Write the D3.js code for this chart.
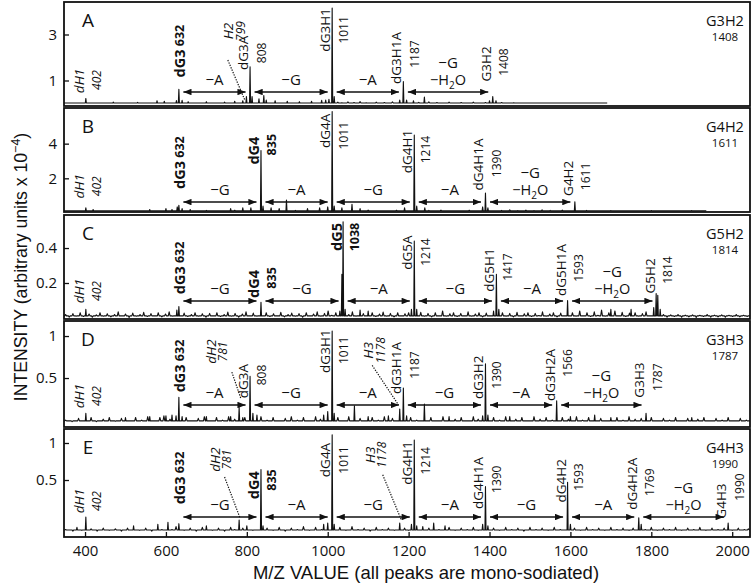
<!DOCTYPE html>
<html><head><meta charset="utf-8">
<script src="https://cdn.jsdelivr.net/npm/d3@7"></script>
<style>
body{margin:0;background:#fff}
svg text{font-family:"Open Sans",sans-serif;fill:#111}
</style>
</head><body>
<svg id="c" width="754" height="586"></svg>
<script>
// ---------------- DATA ----------------
const panelLetters = ["A","B","C","D","E"];
const compounds = ["G3H2","G4H2","G5H2","G3H3","G4H3"];
const compoundMz = ["1408","1611","1814","1787","1990"];
const xTickValues = [400,600,800,1000,1200,1400,1600,1800,2000];
const xDomain = [348, 2044];

const yTicksA = [1,3], yTicksB = [2,4], yTicksC = [0.2,0.4], yTicksD = [0.5,1], yTicksE = [0.5,1];
const yDomainA = [-0.109, 4.413], yDomainB = [0.057, 6.057], yDomainC = [-0.006, 0.589],
      yDomainD = [-0.083, 1.179], yDomainE = [-0.27, 1.189];
const baseA = 0.02, baseB = 0.12, baseC = 0.012, baseD = -0.01, baseE = -0.175;
const traceEndA = 1691, traceEndB = 1936, traceEndC = 2044, traceEndD = 2044, traceEndE = 2044;

// peaks [m/z, intensity]
const peaksA = [[402,0.22],[470,0.06],[530,0.05],[578,0.12],[596,0.1],[626,0.13],[632,0.62],[640,0.14],[655,0.08],[700,0.08],[745,0.06],[770,0.1],[790,0.12],[799,0.3],[808,1.6],[813,0.3],[830,0.2],[842,0.35],[848,0.15],[870,0.12],[900,0.1],[930,0.08],[960,0.1],[985,0.14],[995,0.15],[1003,0.18],[1011,4.15],[1016,0.3],[1178,0.15],[1187,0.95],[1195,0.15],[1212,0.12],[1239,0.28],[1400,0.12],[1408,0.3],[1416,0.12]];
const peaksB = [[402,0.3],[420,0.2],[560,0.2],[600,0.25],[615,0.2],[628,0.35],[632,0.45],[640,0.25],[660,0.2],[760,0.25],[790,0.3],[810,0.3],[835,3.6],[840,0.4],[860,0.3],[880,0.25],[898,0.75],[950,0.25],[980,0.3],[1000,0.35],[1011,5.85],[1016,0.4],[1035,0.3],[1060,0.5],[1080,0.25],[1190,0.3],[1214,4.5],[1220,0.4],[1240,0.3],[1383,0.35],[1390,1.15],[1396,0.3],[1611,0.65]];
const peaksC = [[402,0.05],[627,0.045],[632,0.065],[835,0.09],[1030,0.04],[1035,0.25],[1038,0.55],[1043,0.05],[1080,0.045],[1100,0.04],[1207,0.05],[1214,0.44],[1220,0.05],[1410,0.04],[1417,0.25],[1423,0.05],[1593,0.1],[1700,0.05],[1750,0.05],[1806,0.06],[1812,0.14],[1816,0.13],[1822,0.05]];
const peaksD = [[402,0.08],[500,0.03],[560,0.04],[600,0.05],[615,0.06],[625,0.05],[632,0.27],[640,0.04],[700,0.04],[760,0.04],[781,0.15],[790,0.03],[808,0.52],[815,0.08],[825,0.06],[990,0.06],[1000,0.1],[1011,1.06],[1016,0.08],[1066,0.17],[1100,0.04],[1150,0.05],[1178,0.13],[1187,0.38],[1195,0.05],[1239,0.19],[1300,0.04],[1383,0.05],[1390,0.67],[1396,0.06],[1450,0.04],[1566,0.23],[1600,0.04],[1660,0.06],[1700,0.03],[1787,0.08],[1900,0.03]];
const peaksE = [[380,-0.14],[402,0.0],[520,-0.12],[580,-0.1],[605,-0.07],[632,-0.09],[700,-0.12],[781,-0.04],[800,-0.12],[835,0.64],[840,-0.12],[990,-0.1],[1000,-0.08],[1011,1.11],[1016,-0.1],[1178,-0.08],[1207,-0.1],[1214,1.04],[1220,-0.12],[1235,-0.13],[1262,-0.08],[1290,-0.12],[1383,-0.1],[1390,0.41],[1396,-0.12],[1593,0.47],[1600,-0.1],[1769,-0.01],[1775,-0.1],[1990,-0.08]];

// baseline noise spikes [m/z, intensity]
const noiseA = [[1025,.06],[1035,.03],[1050,.07],[1065,.04],[1080,.08],[1095,.03],[1120,.06],[1140,.04],[1160,.07],[1225,.05],[1250,.07],[1270,.04],[1300,.06],[1330,.04],[1360,.06],[1390,.04],[1430,.04],[1460,.03]];
const noiseB = [[700,.15],[730,.13],[770,.16],[920,.15],[1100,.17],[1130,.13],[1170,.16],[1250,.15],[1280,.17],[1310,.13],[1350,.16],[1430,.15],[1450,.18],[1470,.14],[1490,.17],[1510,.14],[1530,.18],[1550,.15],[1580,.17],[1640,.15],[1700,.14],[1800,.14],[1900,.14]];
const noiseC = [[352,.02],[361,.005],[370,.025],[378,.01],[388,.03],[396,.008],[410,.022],[418,.004],[428,.018],[437,.03],[446,.01],[455,.024],[464,.006],[473,.02],[482,.035],[490,.012],[500,.022],[509,.003],[518,.028],[527,.01],[536,.02],[545,.032],[554,.008],[563,.025],[572,.012],[581,.03],[590,.006],[599,.022],[608,.035],[617,.01],[645,.028],[654,.008],[663,.02],[672,.03],[681,.01],[690,.024],[699,.004],[708,.026],[717,.012],[726,.03],[735,.008],[744,.02],[753,.034],[762,.01],[771,.026],[780,.005],[789,.022],[798,.035],[807,.012],[816,.028],[825,.01],[848,.03],[857,.008],[866,.024],[875,.012],[884,.032],[893,.006],[902,.02],[911,.028],[920,.01],[929,.025],[938,.004],[947,.03],[956,.012],[965,.022],[974,.035],[983,.01],[992,.026],[1001,.04],[1010,.015],[1020,.03],[1052,.02],[1061,.035],[1070,.01],[1088,.025],[1110,.03],[1119,.008],[1128,.022],[1137,.034],[1146,.01],[1155,.026],[1164,.006],[1173,.03],[1182,.012],[1191,.024],[1200,.03],[1230,.032],[1239,.01],[1248,.026],[1257,.006],[1266,.03],[1275,.012],[1284,.04],[1293,.01],[1302,.024],[1311,.03],[1320,.008],[1329,.026],[1338,.012],[1347,.035],[1356,.01],[1365,.022],[1374,.03],[1383,.006],[1392,.028],[1401,.012],[1432,.03],[1441,.01],[1450,.026],[1459,.006],[1468,.032],[1477,.012],[1486,.024],[1495,.03],[1504,.008],[1513,.026],[1522,.014],[1531,.035],[1540,.01],[1549,.022],[1558,.03],[1567,.006],[1576,.028],[1585,.012],[1605,.03],[1614,.01],[1623,.04],[1632,.012],[1641,.03],[1650,.008],[1659,.035],[1668,.015],[1677,.045],[1686,.01],[1695,.03],[1710,.04],[1719,.012],[1728,.032],[1737,.008],[1746,.028],[1760,.03],[1769,.01],[1778,.025],[1787,.035],[1796,.012],[1830,.02],[1839,.005],[1848,.018],[1857,.008],[1866,.02],[1875,.004],[1884,.016],[1893,.006],[1902,.018],[1911,.003],[1920,.015],[1929,.008],[1938,.02],[1947,.005],[1956,.016],[1965,.006],[1974,.018],[1983,.004],[1992,.015],[2001,.008],[2010,.02],[2019,.006],[2028,.015],[2037,.008]];
const noiseD = [[352,0],[368,-.02],[384,.02],[396,-.01],[415,.03],[428,-.02],[445,.01],[460,.03],[475,-.015],[490,.02],[510,-.01],[525,.03],[540,0],[555,.04],[570,-.01],[585,.03],[595,.05],[610,.01],[650,.03],[665,-.01],[680,.02],[695,.04],[710,-.01],[725,.03],[740,0],[755,.04],[770,.01],[795,.03],[835,.04],[850,0],[865,.03],[880,-.01],[895,.02],[910,.04],[925,0],[940,.03],[955,-.01],[970,.04],[982,.01],[1025,.03],[1040,-.01],[1052,.04],[1080,.02],[1092,-.01],[1110,.03],[1125,0],[1140,.04],[1160,.02],[1170,-.01],[1205,.03],[1220,0],[1255,.03],[1270,-.01],[1285,.04],[1315,.01],[1330,.03],[1345,-.01],[1360,.04],[1372,.01],[1410,.03],[1425,0],[1440,.04],[1465,.01],[1480,.03],[1495,-.01],[1510,.04],[1525,.01],[1540,.03],[1555,0],[1580,.03],[1595,.01],[1615,.04],[1630,0],[1645,.03],[1675,.02],[1690,-.01],[1715,.03],[1730,0],[1745,.04],[1760,.01],[1775,.02],[1800,.03],[1815,-.01],[1830,.02],[1845,0],[1860,.03],[1875,-.01],[1890,.02],[1915,.01],[1930,.03],[1945,-.01],[1960,.02],[1975,0],[1990,.03],[2005,-.01],[2020,.02],[2035,0]];
const noiseE = [[352,-.17],[370,-.19],[392,-.18],[415,-.16],[430,-.19],[445,-.15],[460,-.18],[475,-.16],[490,-.19],[505,-.15],[535,-.18],[550,-.15],[565,-.19],[590,-.17],[615,-.17],[625,-.13],[645,-.18],[660,-.15],[675,-.19],[690,-.14],[715,-.18],[730,-.15],[745,-.19],[760,-.14],[770,-.17],[790,-.15],[815,-.18],[850,-.15],[865,-.18],[880,-.14],[895,-.19],[910,-.15],[925,-.17],[940,-.13],[955,-.18],[970,-.14],[985,-.17],[1030,-.14],[1045,-.18],[1060,-.13],[1075,-.17],[1090,-.15],[1105,-.19],[1120,-.14],[1135,-.17],[1150,-.15],[1165,-.18],[1190,-.15],[1200,-.18],[1250,-.15],[1275,-.17],[1300,-.14],[1315,-.18],[1330,-.15],[1345,-.17],[1360,-.14],[1372,-.18],[1410,-.15],[1425,-.18],[1440,-.14],[1455,-.17],[1470,-.15],[1485,-.19],[1500,-.14],[1515,-.17],[1530,-.15],[1545,-.18],[1560,-.14],[1575,-.17],[1610,-.15],[1625,-.18],[1640,-.14],[1655,-.17],[1670,-.15],[1685,-.18],[1700,-.14],[1715,-.17],[1730,-.15],[1745,-.18],[1755,-.15],[1785,-.17],[1800,-.14],[1815,-.18],[1830,-.15],[1845,-.17],[1860,-.14],[1875,-.18],[1890,-.15],[1905,-.17],[1920,-.14],[1935,-.18],[1950,-.15],[1965,-.17],[1980,-.15],[2000,-.18],[2015,-.15],[2030,-.17],[2040,-.16]];

// peak labels [m/z, name, number, y(name), y(number), style]  style: n normal, i italic, b bold
const labelsA = [[402,"dH1","402",0.98,1.02,"i"],[808,"dG3A","808",2.2,2.2,"n"],[1011,"dG3H1","1011",3.2,3.2,"n"],[1187,"dG3H1A","1187",1.98,2.15,"n"],[1408,"G3H2","1408",1.72,1.8,"n"]];
const labelsB = [[402,"dH1","402",1.54,1.54,"i"],[835,"dG4","835",3.6,3.94,"b"],[1011,"dG4A","1011",4.74,4.46,"n"],[1214,"dG4H1","1214",3.54,3.66,"n"],[1390,"dG4H1A","1390",2.8,2.86,"n"],[1611,"G4H2","1611",2.0,2.11,"n"]];
const labelsC = [[402,"dH1","402",0.154,0.154,"i"],[835,"dG4","835",0.194,0.229,"b"],[1038,"dG5","1038",0.463,0.463,"b"],[1214,"dG5A","1214",0.374,0.377,"n"],[1417,"dG5H1","1417",0.274,0.291,"n"],[1593,"dG5H1A","1593",0.274,0.286,"n"],[1814,"G5H2","1814",0.24,0.274,"n"]];
const labelsD = [[402,"dH1","402",0.286,0.286,"i"],[808,"dG3A","808",0.464,0.536,"n"],[1011,"dG3H1","1011",0.82,0.83,"n"],[1187,"dG3H1A","1187",0.62,0.655,"n"],[1390,"dG3H2","1390",0.51,0.536,"n"],[1566,"dG3H2A","1566",0.536,0.68,"n"],[1787,"G3H3","1787",0.476,0.51,"n"]];
const labelsE = [[402,"dH1","402",0.216,0.216,"i"],[835,"dG4","835",0.43,0.5,"b"],[1011,"dG4A","1011",0.77,0.77,"n"],[1214,"dG4H1","1214",0.73,0.76,"n"],[1390,"dG4H1A","1390",0.46,0.51,"n"],[1593,"dG4H2","1593",0.49,0.54,"n"],[1769,"dG4H2A","1769",0.45,0.47,"n"],[1990,"G4H3","1990",0.216,0.405,"n"]];

// single-line bold labels [m/z, name, number, y]
const singleA = [[632,"dG3","632",2.28]];
const singleB = [[632,"dG3","632",2.91]];
const singleC = [[632,"dG3","632",0.286]];
const singleD = [[632,"dG3","632",0.643]];
const singleE = [[632,"dG3","632",0.527]];

// dotted-pointer labels [name, number, label m/z, label y, from m/z, from y, to m/z, to y]
const pointersA = [["H2","799",766,3.15,753,1.89,795,0.15]];
const pointersB = [];
const pointersC = [];
const pointersD = [["dH2","781",723,0.815,763,0.57,785,0.26],["H3","1178",1113,0.83,1110,0.65,1175,0.18]];
const pointersE = [["dH2","781",733,0.775,745,0.54,783,-0.01],["H3","1178",1116,0.84,1136,0.57,1182,-0.04]];

// neutral losses [from m/z, to m/z, label]
const lossesA = [[632,808,"A"],[808,1011,"G"],[1011,1187,"A"],[1187,1408,"GW"]];
const lossesB = [[632,835,"G"],[835,1011,"A"],[1011,1214,"G"],[1214,1390,"A"],[1390,1611,"GW"]];
const lossesC = [[632,835,"G"],[835,1038,"G"],[1038,1214,"A"],[1214,1417,"G"],[1417,1593,"A"],[1593,1814,"GW"]];
const lossesD = [[632,808,"A"],[808,1011,"G"],[1011,1187,"A"],[1187,1390,"G"],[1390,1566,"A"],[1566,1787,"GW"]];
const lossesE = [[632,835,"G"],[835,1011,"A"],[1011,1214,"G"],[1214,1390,"A"],[1390,1593,"G"],[1593,1769,"A"],[1769,1990,"GW"]];
const arrowYA = 0.5, arrowYB = 0.63, arrowYC = 0.097, arrowYD = 0.179, arrowYE = 0.0;

// ---------------- LAYOUT ----------------
const left = 64, right = 750;
const frames = [[2,106],[108,212],[215,319],[321,427],[429,537]];

const panels = [
  {peaks:peaksA, noise:noiseA, base:baseA, end:traceEndA, yd:yDomainA, yt:yTicksA, labels:labelsA, single:singleA, ptr:pointersA, losses:lossesA, ay:arrowYA},
  {peaks:peaksB, noise:noiseB, base:baseB, end:traceEndB, yd:yDomainB, yt:yTicksB, labels:labelsB, single:singleB, ptr:pointersB, losses:lossesB, ay:arrowYB},
  {peaks:peaksC, noise:noiseC, base:baseC, end:traceEndC, yd:yDomainC, yt:yTicksC, labels:labelsC, single:singleC, ptr:pointersC, losses:lossesC, ay:arrowYC},
  {peaks:peaksD, noise:noiseD, base:baseD, end:traceEndD, yd:yDomainD, yt:yTicksD, labels:labelsD, single:singleD, ptr:pointersD, losses:lossesD, ay:arrowYD},
  {peaks:peaksE, noise:noiseE, base:baseE, end:traceEndE, yd:yDomainE, yt:yTicksE, labels:labelsE, single:singleE, ptr:pointersE, losses:lossesE, ay:arrowYE}
];

const svg = d3.select("#c");
const x = d3.scaleLinear().domain(xDomain).range([left, right]);

const defs = svg.append("defs");
defs.append("marker").attr("id","ah").attr("viewBox","0 0 10 8").attr("refX",10).attr("refY",4)
  .attr("markerWidth",8.5).attr("markerHeight",6.5).attr("markerUnits","userSpaceOnUse")
  .attr("orient","auto-start-reverse")
  .append("path").attr("d","M0,0 L10,4 L0,8 z").attr("fill","#111");

function rot(g, px, py) {
  return g.append("text").attr("transform", `translate(${px},${py}) rotate(-90)`)
    .attr("text-anchor","middle").attr("dominant-baseline","central");
}

panels.forEach((p, i) => {
  const [top, bottom] = frames[i];
  const y = d3.scaleLinear().domain(p.yd).range([bottom, top]);
  const g = svg.append("g");
  const clipId = "clip" + i;
  defs.append("clipPath").attr("id", clipId).append("rect")
    .attr("x", left).attr("y", top).attr("width", right - left).attr("height", bottom - top);

  // trace: every peak / noise spike rises from the panel baseline
  const pts = [];
  p.noise.forEach(d => {
    pts.push({mz:d[0]-2.2, v:p.base});
    pts.push({mz:d[0], v:d[1]});
    pts.push({mz:d[0]+2.2, v:p.base});
  });
  p.peaks.forEach(d => {
    pts.push({mz:d[0]-1.3, v:p.base});
    pts.push({mz:d[0], v:d[1]});
    pts.push({mz:d[0]+1.3, v:p.base});
  });
  pts.sort((a,b) => a.mz - b.mz);
  const trace = [{mz:xDomain[0], v:p.base}, ...pts.filter(d => d.mz <= p.end), {mz:p.end, v:p.base}];
  const line = d3.line().x(d => x(d.mz)).y(d => y(d.v));
  g.append("path").attr("d", line(trace)).attr("fill","none").attr("stroke","#111")
    .attr("stroke-width",1.1).attr("stroke-linejoin","round").attr("clip-path",`url(#${clipId})`);

  // frame
  g.append("rect").attr("x", left).attr("y", top).attr("width", right-left).attr("height", bottom-top)
    .attr("fill","none").attr("stroke","#111").attr("stroke-width",1.8);

  // y axis
  const ya = d3.axisLeft(y).tickValues(p.yt).tickSizeInner(-5).tickSizeOuter(0).tickPadding(7)
    .tickFormat(d3.format("~g"));
  const ag = g.append("g").attr("transform",`translate(${left},0)`).call(ya);
  ag.select(".domain").remove();
  ag.selectAll("line").attr("stroke","#111").attr("stroke-width",1.3);
  ag.selectAll("text").style("font-size","15px").style("font-family","'Open Sans',sans-serif").attr("fill","#111");

  // panel letter
  g.append("text").attr("x", 88).attr("y", top + 24.5).attr("text-anchor","middle")
    .style("font-size","19px").text(panelLetters[i]);
  // compound
  g.append("text").attr("x", 725).attr("y", top + 24).attr("text-anchor","middle")
    .style("font-size","14.5px").text(compounds[i]);
  g.append("text").attr("x", 725).attr("y", top + 39).attr("text-anchor","middle")
    .style("font-size","11.5px").text(compoundMz[i]);

  // peak labels
  p.labels.forEach(d => {
    const [mz, name, num, vn, vv, st] = d;
    const px = x(mz);
    const t1 = rot(g, px - 7, y(vn)).text(name).style("font-size", st==="b" ? "14.5px" : "13.5px");
    const t2 = rot(g, px + 11, y(vv)).text(num).style("font-size", st==="b" ? "12.5px" : "12px");
    if (st === "i") { t1.style("font-style","italic"); t2.style("font-style","italic"); }
    if (st === "b") { t1.style("font-weight","bold"); t2.style("font-weight","bold"); }
  });
  p.single.forEach(d => {
    const [mz, name, num, v] = d;
    const t = rot(g, x(mz), y(v)).style("font-weight","bold");
    t.append("tspan").style("font-size","14.5px").text(name);
    t.append("tspan").style("font-size","12.5px").text("\u00a0" + num);
  });
  p.ptr.forEach(d => {
    const [name, num, lmz, lv, fm, fv, tm, tv] = d;
    const px = x(lmz);
    rot(g, px - 5, y(lv)).text(name).style("font-size","13.5px").style("font-style","italic");
    rot(g, px + 7, y(lv)).text(num).style("font-size","12px").style("font-style","italic");
    g.append("line").attr("x1", x(fm)).attr("y1", y(fv)).attr("x2", x(tm)).attr("y2", y(tv))
      .attr("stroke","#111").attr("stroke-width",1.2).attr("stroke-dasharray","1.3,1.3");
  });

  // loss arrows
  const ay = y(p.ay);
  p.losses.forEach(d => {
    const [a, b, lab] = d;
    const x1 = x(a) + 4.5, x2 = x(b) - 4.5;
    g.append("line").attr("x1", x1).attr("x2", x2).attr("y1", ay).attr("y2", ay)
      .attr("stroke","#111").attr("stroke-width",1.4)
      .attr("marker-start","url(#ah)").attr("marker-end","url(#ah)");
    const cx = (x1 + x2) / 2;
    if (lab === "GW") {
      g.append("text").attr("x", cx).attr("y", ay - 24).attr("text-anchor","middle")
        .style("font-size","15px").text("\u2212G");
      const t = g.append("text").attr("x", cx).attr("y", ay - 7).attr("text-anchor","middle")
        .style("font-size","14.5px");
      t.append("tspan").text("\u2212H");
      t.append("tspan").attr("dy", 4).style("font-size","10px").text("2");
      t.append("tspan").attr("dy", -4).text("O");
    } else {
      g.append("text").attr("x", cx).attr("y", ay - 7).attr("text-anchor","middle")
        .style("font-size","15px").text("\u2212" + lab);
    }
  });

  // x axis on bottom panel
  if (i === panels.length - 1) {
    const xa = d3.axisBottom(x).tickValues(xTickValues).tickSizeInner(-5).tickSizeOuter(0).tickPadding(8)
      .tickFormat(d3.format("d"));
    const xg = g.append("g").attr("transform",`translate(0,${bottom})`).call(xa);
    xg.select(".domain").remove();
    xg.selectAll("line").attr("stroke","#111").attr("stroke-width",1.3);
    xg.selectAll("text").style("font-size","15px").style("font-family","'Open Sans',sans-serif").attr("fill","#111");
  }
});

// axis titles
svg.append("text").attr("x", 426).attr("y", 579).attr("text-anchor","middle")
  .style("font-family","'Liberation Sans',Arial,sans-serif").style("font-size","18.5px")
  .text("M/Z VALUE (all peaks are mono-sodiated)");
const yt = svg.append("text").attr("transform","translate(27,267) rotate(-90)").attr("text-anchor","middle")
  .style("font-family","'Liberation Sans',Arial,sans-serif").style("font-size","17.7px");
yt.append("tspan").text("INTENSITY (arbitrary units x 10");
yt.append("tspan").attr("dy",-7).style("font-size","12.5px").text("\u22124");
yt.append("tspan").attr("dy",7).text(")");
</script>
</body></html>
